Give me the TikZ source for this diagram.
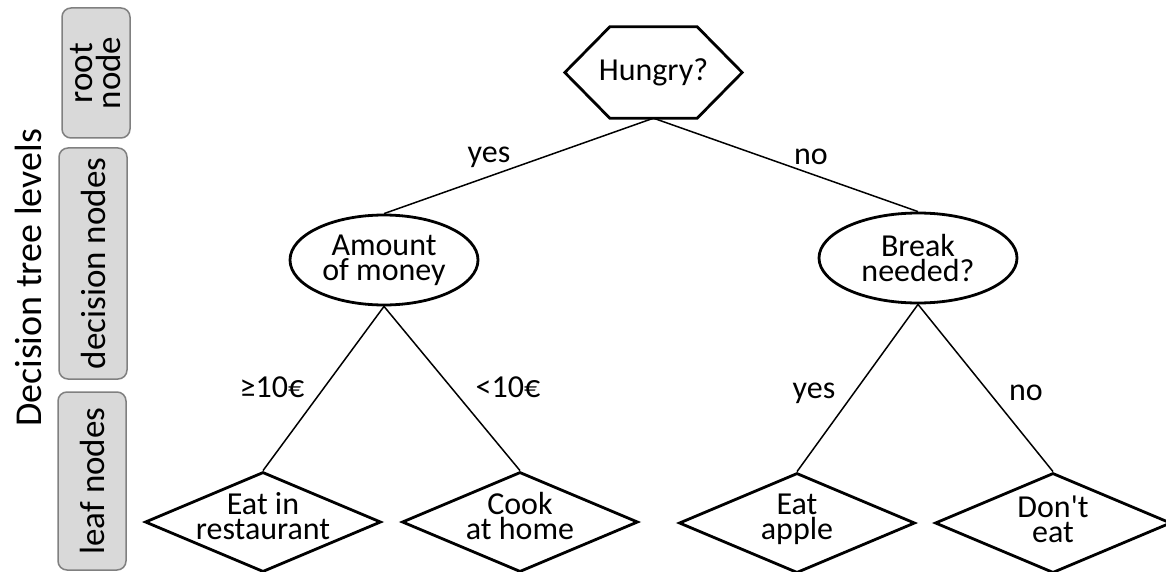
\documentclass[tikz,border=0pt]{standalone}
\usepackage{fontspec}
\setmainfont{Carlito}
\usetikzlibrary{shapes.geometric}
\begin{document}
\begin{tikzpicture}[x=1pt,y=-1pt,
  txt/.style={font=\fontsize{32}{25}\selectfont, align=center, inner sep=0pt},
  lvl/.style={draw=black!50, fill=black!15, line width=1.5pt, rounded corners=9pt, inner sep=0pt},
  lvltxt/.style={font=\fontsize{35}{28}\selectfont, align=center, inner sep=0pt, rotate=90},
  dec/.style={draw, ellipse, line width=2.8pt, inner sep=0pt},
  leaf/.style={draw, diamond, line width=2.8pt, inner sep=0pt},
  conn/.style={line width=1.5pt},
  elbl/.style={font=\fontsize{32}{25}\selectfont, inner sep=0pt}]
\useasboundingbox (0,0) rectangle (1166,572);
% level boxes
\node[lvl, minimum width=68pt, minimum height=130pt] (bRoot) at (96,73) {};
\node[lvltxt] (tRoot) at (bRoot) {root\\node};
\node[lvl, minimum width=68pt, minimum height=231pt] (bDec) at (93,263.5) {};
\node[lvltxt] (tDec) at (bDec) {decision nodes};
\node[lvl, minimum width=68pt, minimum height=178pt] (bLeaf) at (92,481) {};
\node[lvltxt] (tLeaf) at (bLeaf) {leaf nodes};
\node[font=\fontsize{38}{40}\selectfont, rotate=90, inner sep=0pt] (title) at (28,278) {Decision tree levels};
% root hexagon
\node[minimum width=177pt, minimum height=91pt, inner sep=0pt] (root) at (653.5,72.5) {};
\draw[line width=2.8pt, line join=miter] (root.west) -- ([xshift=45pt]root.north west) -- ([xshift=-45pt]root.north east) -- (root.east) -- ([xshift=-45pt]root.south east) -- ([xshift=45pt]root.south west) -- cycle;
\node[txt] (rootT) at (root) {Hungry?};
% decision nodes
\node[dec, minimum width=188pt, minimum height=90pt] (amt) at (384,260) {};
\node[txt] (amtT) at (amt) {Amount\\of money};
\node[dec, minimum width=198pt, minimum height=90pt] (brk) at (918,258) {};
\node[txt] (brkT) at (brk) {Break\\needed?};
% leaves
\node[leaf, minimum width=236pt, minimum height=100pt] (l1) at (263,522) {};
\node[txt] (l1T) at ([yshift=6pt]l1.center) {Eat in\\restaurant};
\node[leaf, minimum width=236pt, minimum height=100pt] (l2) at (520,522) {};
\node[txt] (l2T) at ([yshift=6pt]l2.center) {Cook\\at home};
\node[leaf, minimum width=236pt, minimum height=100pt] (l3) at (797,523) {};
\node[txt] (l3T) at ([yshift=4pt]l3.center) {Eat\\apple};
\node[leaf, minimum width=236pt, minimum height=100pt] (l4) at (1053,523) {};
\node[txt] (l4T) at ([yshift=4pt]l4.center) {Don\textquotesingle t\\eat};
% connectors
\draw[conn] (root.south) -- (amt.north);
\draw[conn] (root.south) -- (brk.north);
\draw[conn] (amt.south) -- (l1.north);
\draw[conn] (amt.south) -- (l2.north);
\draw[conn] (brk.south) -- (l3.north);
\draw[conn] (brk.south) -- (l4.north);
% edge labels
\node[elbl] (e1) at (489,157) {yes};
\node[elbl] (e2) at (811,157) {no};
\node[elbl] (e3) at (272,387) {≥10€};
\node[elbl] (e4) at (508,387) {<10€};
\node[elbl] (e5) at (814,393) {yes};
\node[elbl] (e6) at (1026,393) {no};
\end{tikzpicture}
\end{document}
